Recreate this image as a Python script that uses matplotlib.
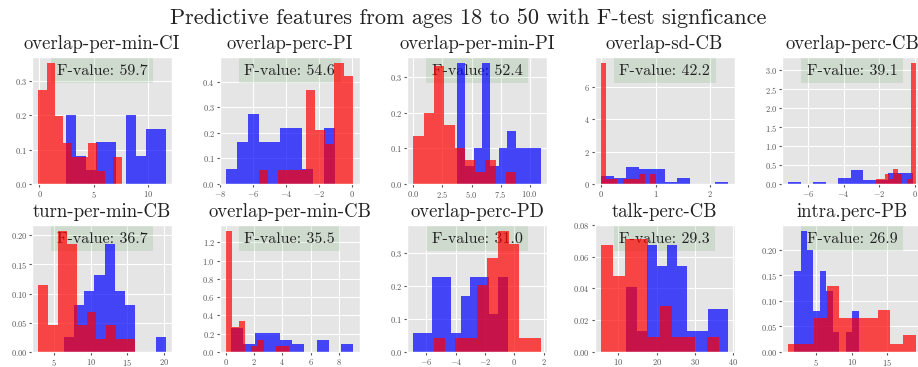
import numpy as np
import matplotlib.pyplot as plt

plt.style.use('ggplot')
plt.rcParams['font.family'] = ['cmr10', 'DejaVu Serif']
plt.rcParams['mathtext.fontset'] = 'cm'
plt.rcParams['axes.formatter.use_mathtext'] = True
plt.rcParams['axes.unicode_minus'] = True
plt.rcParams['ytick.labelsize'] = 6  # also drives the y tick density

# --- data (density histograms, 10 bins each) ---
titles = ['overlap-per-min-CI', 'overlap-perc-PI', 'overlap-per-min-PI', 'overlap-sd-CB',
          'overlap-perc-CB', 'turn-per-min-CB', 'overlap-per-min-CB', 'overlap-perc-PD',
          'talk-perc-CB', 'intra.perc-PB']
f_values = [59.7, 54.6, 52.4, 42.2, 39.1, 36.7, 35.5, 31.0, 29.3, 26.9]

# group 1 (red)
red_ranges = [(-0.09, 7.54), (-5.68, 0.06), (0.0, 8.84), (0.0, 1.0), (-2.44, 0.06),
              (2.92, 16.0), (0.0, 4.45), (-5.49, 1.79), (5.46, 36.3), (1.09, 19.0)]
red_heights = [
    [0.275, 0.353, 0.197, 0.118, 0.079, 0.079, 0.118, 0.039, 0.0, 0.079],
    [0.053, 0.0, 0.053, 0.053, 0.053, 0.369, 0.211, 0.158, 0.474, 0.421],
    [0.135, 0.2, 0.331, 0.165, 0.101, 0.067, 0.033, 0.067, 0.0, 0.033],
    [7.47, 0.3, 0.3, 0.0, 0.3, 0.3, 0.3, 0.6, 0.0, 0.6],
    [0.0, 0.12, 0.12, 0.25, 0.12, 0.38, 0.25, 0.0, 0.12, 3.19],
    [0.115, 0.046, 0.207, 0.184, 0.046, 0.069, 0.023, 0.046, 0.023, 0.023],
    [1.325, 0.27, 0.34, 0.0, 0.067, 0.134, 0.0, 0.0, 0.067, 0.067],
    [0.043, 0.0, 0.043, 0.043, 0.205, 0.286, 0.368, 0.328, 0.043, 0.043],
    [0.0675, 0.048, 0.071, 0.071, 0.0095, 0.029, 0.0095, 0.0095, 0.0, 0.0095],
    [0.016, 0.016, 0.066, 0.13, 0.066, 0.066, 0.066, 0.082, 0.016, 0.033],
]

# group 2 (blue)
blue_ranges = [(2.46, 11.59), (-7.66, -1.07), (3.74, 10.96), (0.0, 2.33), (-7.1, -0.07),
               (6.37, 20.2), (0.35, 9.02), (-6.88, -0.45), (12.1, 38.7), (1.88, 10.95)]
blue_heights = [
    [0.2, 0.08, 0.04, 0.123, 0.123, 0.0, 0.2, 0.08, 0.16, 0.16],
    [0.057, 0.166, 0.275, 0.166, 0.166, 0.22, 0.22, 0.057, 0.0, 0.22],
    [0.341, 0.05, 0.1, 0.341, 0.05, 0.1, 0.15, 0.1, 0.1, 0.1],
    [0.48, 0.36, 1.07, 0.95, 0.95, 0.12, 0.36, 0.0, 0.0, 0.12],
    [0.04, 0.0, 0.04, 0.0, 0.15, 0.36, 0.09, 0.09, 0.3, 0.3],
    [0.026, 0.08, 0.105, 0.132, 0.185, 0.105, 0.08, 0.0, 0.0, 0.026],
    [0.258, 0.086, 0.21, 0.21, 0.13, 0.086, 0.0, 0.13, 0.0, 0.086],
    [0.057, 0.057, 0.227, 0.227, 0.057, 0.17, 0.227, 0.227, 0.114, 0.227],
    [0.041, 0.0135, 0.0675, 0.054, 0.0675, 0.054, 0.0135, 0.0135, 0.027, 0.027],
    [0.158, 0.237, 0.2, 0.08, 0.158, 0.12, 0.04, 0.0, 0.04, 0.08],
]

y_tops = [None, None, None, None, None, None, None, None, 0.08, None]

fig = plt.figure(figsize=(9.18, 3.67), dpi=100)
gs = fig.add_gridspec(2, 5, left=0.035, right=1.0044, bottom=0.041, top=0.845,
                      wspace=0.34, hspace=0.323)

for i in range(10):
    ax = fig.add_subplot(gs[i // 5, i % 5])
    # blue first, red drawn on top
    eb = np.linspace(blue_ranges[i][0], blue_ranges[i][1], 11)
    ax.hist(eb[:-1], bins=eb, weights=blue_heights[i], color='blue', alpha=0.7)
    er = np.linspace(red_ranges[i][0], red_ranges[i][1], 11)
    ax.hist(er[:-1], bins=er, weights=red_heights[i], color='red', alpha=0.7)

    if y_tops[i] is not None:
        ax.set_ylim(0, y_tops[i])

    ax.set_title(titles[i], fontsize=13.5, color='#222222')
    ax.text(0.5, 0.89, f'F-value: {f_values[i]:.1f}', transform=ax.transAxes,
            ha='center', va='center', fontsize=11.5, color='#222222', zorder=0.8,
            bbox=dict(facecolor='green', alpha=0.1, edgecolor='none'))
    ax.tick_params(labelsize=6, colors='#555555', length=2, pad=1.5)

fig.suptitle('Predictive features from ages 18 to 50 with F-test signficance',
             fontsize=16, x=0.51, y=0.978, color='#222222')

plt.savefig('out.png', dpi=100)
